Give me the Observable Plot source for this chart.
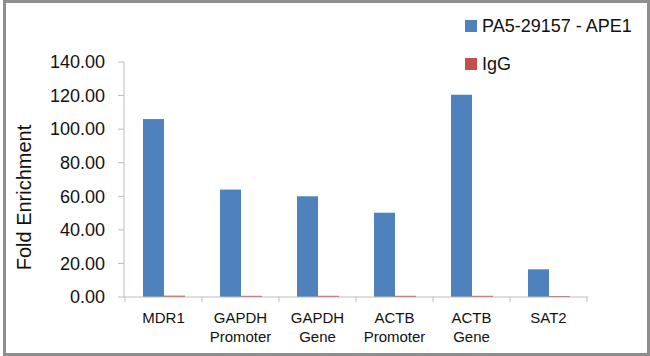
<!DOCTYPE html>
<html><head><meta charset="utf-8">
<script src="https://cdn.jsdelivr.net/npm/d3@7"></script>
<script src="https://cdn.jsdelivr.net/npm/@observablehq/plot@0.6"></script>
<style>
body{margin:0;background:#fff;}
#wrap{position:relative;width:650px;height:356px;overflow:hidden;font-family:"Liberation Sans",Arial,sans-serif;}
#wrap svg{position:absolute;left:0;top:0;}
#border{position:absolute;left:3px;top:0;width:647px;height:356px;box-sizing:border-box;border:3px solid #8e8e8e;pointer-events:none;}
.leg{position:absolute;font-size:18px;color:#111;white-space:nowrap;line-height:1;}
.leg span{display:inline-block;width:12px;height:12px;margin-right:5px;vertical-align:0px;}
</style></head>
<body><div id="wrap"></div>
<script>
const categories = ["MDR1", "GAPDH\nPromoter", "GAPDH\nGene", "ACTB\nPromoter", "ACTB\nGene", "SAT2"];
const series = ["PA5-29157 - APE1", "IgG"];
const apeValues = [106, 64, 60, 50.2, 120.5, 16.5];
const iggValues = [0.8, 0.7, 0.7, 0.7, 0.7, 0.6];
const colors = ["#4f81bd", "#c0504d"];
const yTicks = [0, 20, 40, 60, 80, 100, 120, 140];

const data = [];
categories.forEach((c, i) => {
  data.push({cat: c, series: series[0], value: apeValues[i]});
  data.push({cat: c, series: series[1], value: iggValues[i]});
});

const plot = Plot.plot({
  width: 650, height: 356,
  marginLeft: 124, marginRight: 62, marginTop: 62, marginBottom: 59,
  style: {fontFamily: '"Liberation Sans", Arial, sans-serif', background: "transparent"},
  fx: {domain: categories, padding: 0, axis: null},
  x: {domain: series, paddingInner: 0, paddingOuter: 0.8, axis: null},
  y: {domain: [0, 140], axis: null},
  color: {domain: series, range: colors},
  marks: [
    Plot.barY(data, {fx: "cat", x: "series", y: "value", fill: "series", inset: 0}),
  ]
});
const wrap = document.getElementById("wrap");
wrap.appendChild(plot);

// axes drawn with the plot's scales
const svg = d3.select(plot);
const ys = plot.scale("y"), fxs = plot.scale("fx");
const x0 = 124, x1 = 650 - 62;
const g = svg.append("g");
const axisColor = "#bdbdbd";
g.append("line").attr("x1", x0).attr("x2", x0).attr("y1", ys.apply(140)).attr("y2", ys.apply(0)).attr("stroke", axisColor);
g.append("line").attr("x1", x0).attr("x2", x1).attr("y1", ys.apply(0)).attr("y2", ys.apply(0)).attr("stroke", axisColor);
yTicks.forEach(t => {
  const y = ys.apply(t);
  g.append("line").attr("x1", x0 - 6).attr("x2", x0).attr("y1", y).attr("y2", y).attr("stroke", axisColor);
  g.append("text").attr("x", x0 - 19).attr("y", y).attr("dy", "0.35em").attr("text-anchor", "end")
    .attr("font-size", 18).attr("fill", "#111").text(t.toFixed(2));
});
const bounds = categories.map(c => fxs.apply(c)).concat([fxs.apply(categories[categories.length-1]) + fxs.bandwidth]);
bounds.forEach(b => {
  g.append("line").attr("x1", b).attr("x2", b).attr("y1", ys.apply(0)).attr("y2", ys.apply(0) + 5).attr("stroke", axisColor);
});
categories.forEach(c => {
  const cx = fxs.apply(c) + fxs.bandwidth / 2;
  const lines = c.split("\n");
  const t = g.append("text").attr("text-anchor", "middle").attr("font-size", 15).attr("fill", "#111");
  lines.forEach((l, i) => t.append("tspan").attr("x", cx).attr("y", ys.apply(0) + 26 + i * 19).text(l));
});
g.append("text").attr("transform", `translate(31,${(ys.apply(0)+ys.apply(140))/2 + 18}) rotate(-90)`)
  .attr("text-anchor", "middle").attr("font-size", 20).attr("fill", "#111").text("Fold Enrichment");

// legend
series.forEach((s, i) => {
  const d = document.createElement("div");
  d.className = "leg";
  d.style.left = "465px";
  d.style.top = (17 + i * 38) + "px";
  d.innerHTML = `<span style="background:${colors[i]}"></span>`;
  d.appendChild(document.createTextNode(s));
  wrap.appendChild(d);
});
const b = document.createElement("div"); b.id = "border"; wrap.appendChild(b);
</script></body></html>
